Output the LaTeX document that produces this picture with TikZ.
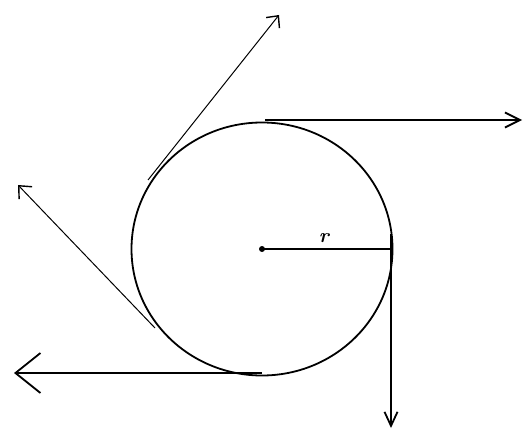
\documentclass[tikz,border=0pt]{standalone}
\usetikzlibrary{arrows.meta}
\begin{document}
\begin{tikzpicture}[x=1pt,y=-1pt,
  thick line/.style={line width=1.8pt},
  thin line/.style={line width=1pt},
  lbl/.style={inner sep=0pt, font=\fontsize{20}{20}\selectfont\bfseries\itshape}]
\useasboundingbox (0,0) rectangle (524,430);
% circle
\coordinate (c) at (262,249);
\draw[thick line] (c) ellipse [x radius=130.5, y radius=126.5];
\fill (c) circle (3);
% radius
\coordinate (rr) at (391,249);
\draw[thick line] (c) -- (rr);
\node[lbl] (rlabel) at (324,238) {r};
% down arrow
\coordinate (d0) at (391,234);
\coordinate (d1) at (391,428);
\draw[thick line, -{Straight Barb[length=14, width=13]}] (d0) -- (d1);
% top horizontal
\coordinate (t0) at (265,120);
\coordinate (t1) at (522,120);
\draw[thick line, -{Straight Barb[length=15, width=15]}] (t0) -- (t1);
% bottom horizontal
\coordinate (b0) at (262,373);
\coordinate (b1) at (14,373);
\draw[thick line, -{Straight Barb[length=25, width=40]}] (b0) -- (b1);
% upper diagonal
\coordinate (u0) at (148,180);
\coordinate (u1) at (279,15);
\draw[thin line, -{Straight Barb[length=9, width=17, line width=1.4pt]}] (u0) -- (u1);
% left diagonal
\coordinate (l0) at (155,328);
\coordinate (l1) at (18,185);
\draw[thin line, -{Straight Barb[length=10, width=18, line width=1.4pt]}] (l0) -- (l1);
\end{tikzpicture}
\end{document}
